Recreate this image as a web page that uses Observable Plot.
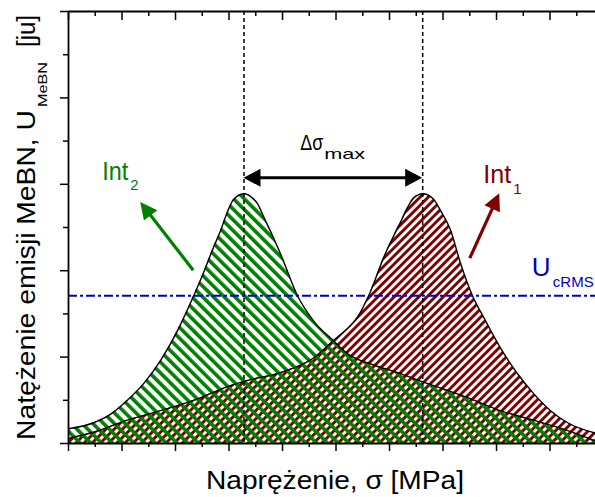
<!DOCTYPE html>
<html><head><meta charset="utf-8">
<script src="https://cdn.jsdelivr.net/npm/d3@7"></script>
<script src="https://cdn.jsdelivr.net/npm/@observablehq/plot@0.6"></script>
<style>html,body{margin:0;padding:0;background:#fff;} svg{display:block}</style>
</head><body><div id="chart"></div>
<script>
// Int2 (green, left peak)
const sigma2 = [0, 0.47, 0.79, 1.10, 1.40, 1.72, 2.04, 2.34, 2.52, 2.71, 2.84, 2.97, 3.08, 3.28, 3.44, 3.53, 3.65, 3.78, 3.96, 4.28, 4.58, 4.95, 5.21, 5.65, 6.15, 6.64, 7.46, 8.07, 8.69, 9.33, 9.85];
const int2   = [0.17, 0.24, 0.34, 0.50, 0.69, 0.96, 1.31, 1.71, 1.97, 2.27, 2.46, 2.68, 2.82, 2.89, 2.84, 2.78, 2.62, 2.45, 2.20, 1.71, 1.42, 1.19, 1.04, 0.92, 0.82, 0.71, 0.53, 0.38, 0.27, 0.15, 0.03];
// Int1 (dark red, right peak)
const sigma1 = [0, 0.47, 1.10, 1.72, 2.34, 3.03, 3.35, 3.96, 4.58, 4.95, 5.18, 5.40, 5.61, 5.91, 6.06, 6.22, 6.36, 6.45, 6.62, 6.82, 6.95, 7.14, 7.33, 7.55, 7.76, 8.07, 8.39, 8.69, 9.01, 9.33, 9.85];
const int1   = [0.06, 0.13, 0.27, 0.38, 0.50, 0.67, 0.73, 0.82, 0.99, 1.19, 1.31, 1.46, 1.71, 2.18, 2.38, 2.58, 2.76, 2.84, 2.89, 2.83, 2.70, 2.47, 2.08, 1.71, 1.46, 1.11, 0.81, 0.58, 0.38, 0.24, 0.12];
const peakSigma = [3.28, 6.62];
const ucrms = 1.71;
const xMajorTicks = [0, 1, 2, 3, 4, 5, 6, 7, 8, 9];
const xMinorTicks = [0.5, 1.5, 2.5, 3.5, 4.5, 5.5, 6.5, 7.5, 8.5, 9.5];
const yMajorTicks = [0, 1, 2, 3, 4, 5];
const yMinorTicks = [0.5, 1.5, 2.5, 3.5, 4.5];

const GREEN = "#008000", RED = "#800000", BLUE = "#0000c0";
const FONT = "'Liberation Sans', Arial, Helvetica, sans-serif";

const d2 = sigma2.map((s, i) => ({s, v: int2[i]}));
const d1 = sigma1.map((s, i) => ({s, v: int1[i]}));

function defsMark() {
  const defs = d3.create("svg:defs");
  const pg = defs.append("pattern").attr("id", "hatchGreen").attr("patternUnits", "userSpaceOnUse")
    .attr("width", 7.6).attr("height", 10).attr("patternTransform", "rotate(-45)");
  pg.append("rect").attr("x", 0).attr("y", 0).attr("width", 3.6).attr("height", 10).attr("fill", GREEN);
  const pr = defs.append("pattern").attr("id", "hatchRed").attr("patternUnits", "userSpaceOnUse")
    .attr("width", 5.8).attr("height", 10).attr("patternTransform", "rotate(45)");
  pr.append("rect").attr("x", 0).attr("y", 0).attr("width", 2.9).attr("height", 10).attr("fill", RED);
  return defs.node();
}

function annotations(index, scales) {
  const x = scales.x, y = scales.y;
  const g = d3.create("svg:g").attr("text-anchor", "start");
  function arrow(x1, y1, x2, y2, color, both, L, W, sw) {
    const dx = x2 - x1, dy = y2 - y1, len = Math.hypot(dx, dy);
    const ux = dx / len, uy = dy / len, px = -uy, py = ux;
    const a = both ? [x1 + ux * L * 0.6, y1 + uy * L * 0.6] : [x1, y1];
    const b = [x2 - ux * L * 0.6, y2 - uy * L * 0.6];
    g.append("line").attr("x1", a[0]).attr("y1", a[1]).attr("x2", b[0]).attr("y2", b[1])
      .attr("stroke", color).attr("stroke-width", sw);
    const head = (tx, ty, sx, sy) => {
      const bx = tx - sx * L, by = ty - sy * L;
      g.append("polygon").attr("fill", color)
        .attr("points", `${tx},${ty} ${bx + px * W / 2},${by + py * W / 2} ${bx - px * W / 2},${by - py * W / 2}`);
    };
    head(x2, y2, ux, uy);
    if (both) head(x1, y1, -ux, -uy);
  }
  function label(str, px, py, size, fill, len, rot) {
    const t = g.append("text")
      .attr("transform", `translate(${px},${py})` + (rot ? ` rotate(${rot})` : ""))
      .attr("text-anchor", "start")
      .attr("font-family", FONT).attr("font-size", size).attr("fill", fill).text(str);
    if (len) t.attr("textLength", len).attr("lengthAdjust", "spacingAndGlyphs");
  }
  // double arrow between the peaks
  const ya = y(3.07);
  arrow(x(peakSigma[0]), ya, x(peakSigma[1]), ya, "#000", true, 17, 18, 3);
  // Int arrows
  arrow(x(2.34), y(2.00), x(1.35), y(2.79), GREEN, false, 17, 17, 3.2);
  arrow(x(7.51), y(2.14), x(8.06), y(2.89), RED, false, 17, 17, 3.2);
  // labels
  const dsx = x(4.34), dsy = y(3.39);
  label("Δσ", dsx, dsy, 22, "#000", 23);
  label("max", dsx + 24, dsy + 9, 15, "#000", 41);
  const i2x = x(0.64), i2y = y(3.04);
  label("Int", i2x, i2y, 26, GREEN, 26);
  label("2", i2x + 28, i2y + 10, 15, GREEN);
  const i1x = x(7.76), i1y = y(3.01);
  label("Int", i1x, i1y, 25, RED, 28);
  label("1", i1x + 30, i1y + 11, 15, RED);
  const ux = x(8.67), uy = y(ucrms) - 19;
  label("U", ux, uy, 26, BLUE);
  label("cRMS", ux + 21, uy + 11, 15, BLUE);
  // axis titles
  label("Naprężenie, σ [MPa]", 206, 489, 26, "#000", 258);
  label("Natężenie emisji MeBN, U", 35, 440, 25, "#000", 330, -90);
  label("MeBN", 47, 107, 13, "#000", 45, -90);
  label("[ju]", 35, 47, 25, "#000", 32, -90);
  return g.node();
}

const plot = Plot.plot({
  width: 595, height: 497,
  marginLeft: 68, marginRight: 0, marginTop: 11, marginBottom: 54,
  x: {domain: [0, 9.85], label: null},
  y: {domain: [0, 5], label: null},
  style: {background: "white", overflow: "visible"},
  marks: [
    defsMark,
    Plot.areaY(d1, {x: "s", y: "v", fill: "url(#hatchRed)", curve: "monotone-x"}),
    Plot.areaY(d2, {x: "s", y: "v", fill: "url(#hatchGreen)", curve: "monotone-x"}),
    Plot.lineY(d1, {x: "s", y: "v", stroke: "#000", strokeWidth: 1.4, curve: "monotone-x"}),
    Plot.lineY(d2, {x: "s", y: "v", stroke: "#000", strokeWidth: 1.4, curve: "monotone-x"}),
    Plot.ruleX(peakSigma, {stroke: "#000", strokeWidth: 1.5, strokeDasharray: "4,3"}),
    Plot.ruleY([ucrms], {stroke: BLUE, strokeWidth: 1.8, strokeDasharray: "9,3,3,3"}),
    Plot.ruleY([0, 5], {stroke: "#000", strokeWidth: 1.8}),
    Plot.ruleX([0], {stroke: "#000", strokeWidth: 1.8}),
    Plot.axisX(xMajorTicks, {anchor: "bottom", tickSize: 8, tickFormat: () => "", label: null, strokeWidth: 1.5}),
    Plot.axisX(xMinorTicks, {anchor: "bottom", tickSize: 4, tickFormat: () => "", label: null, strokeWidth: 1.5}),
    Plot.axisX(xMajorTicks, {anchor: "top", tickSize: 8, dy: 8, tickFormat: () => "", label: null, strokeWidth: 1.5}),
    Plot.axisX(xMinorTicks, {anchor: "top", tickSize: 4, dy: 4, tickFormat: () => "", label: null, strokeWidth: 1.5}),
    Plot.axisY(yMajorTicks, {anchor: "left", tickSize: 8, tickFormat: () => "", label: null, strokeWidth: 1.5}),
    Plot.axisY(yMinorTicks, {anchor: "left", tickSize: 5, tickFormat: () => "", label: null, strokeWidth: 1.5}),
    annotations
  ]
});
document.getElementById("chart").append(plot);
</script>
</body></html>
